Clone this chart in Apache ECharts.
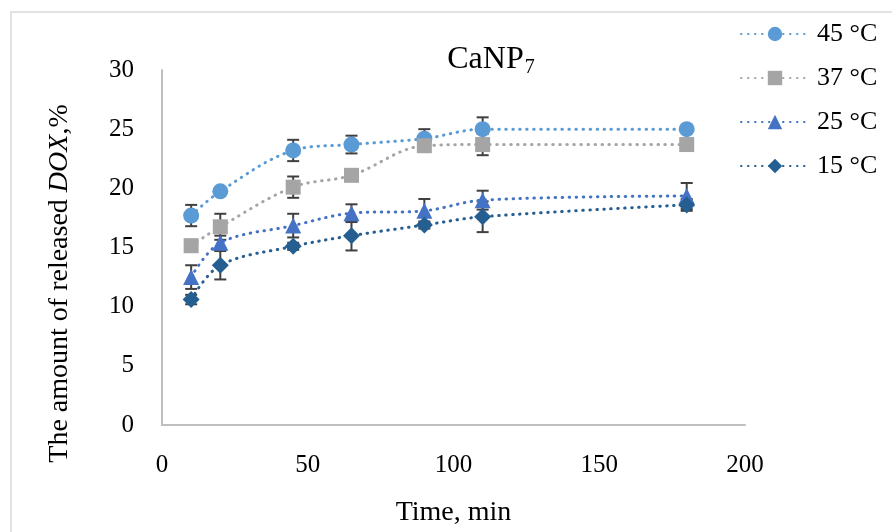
<!DOCTYPE html>
<html><head><meta charset="utf-8">
<script src="https://cdn.jsdelivr.net/npm/echarts@6/dist/echarts.min.js"></script>
<style>html,body{margin:0;padding:0;background:#fff}#c{width:892px;height:532px}</style>
</head><body><div id="c"></div>
<script>
const times = [10, 20, 45, 65, 90, 110, 180];
const seriesNames = ['45 °C', '37 °C', '25 °C', '15 °C'];
const v45 = [17.7, 19.75, 23.2, 23.7, 24.2, 25.0, 25.0];
const v37 = [15.15, 16.75, 20.1, 21.1, 23.6, 23.7, 23.7];
const v25 = [12.5, 15.4, 16.85, 17.9, 18.1, 19.0, 19.35];
const v15 = [10.6, 13.5, 15.1, 16.0, 16.9, 17.6, 18.6];
const e45 = [0.9, 0.3, 0.9, 0.75, 0.8, 1.0, 0.2];
const e37 = [0.5, 1.1, 0.9, 0.3, 0.5, 0.9, 0.2];
const e25 = [1.0, 0.6, 1.0, 0.75, 1.0, 0.8, 1.1];
const e15 = [0.4, 1.2, 0.3, 1.25, 0.3, 1.3, 0.5];
const xTicks = [0, 50, 100, 150, 200];
const yTicks = [0, 5, 10, 15, 20, 25, 30];

const colors = ['#5B9BD5', '#A5A5A5', '#4472C4', '#255E91'];
const symbols = ['circle', 'rect', 'triangle', 'diamond'];
const symSizes = [16, 15, 16, 17];
const vals = [v45, v37, v25, v15];
const errs = [e45, e37, e25, e15];
const serif = '"Liberation Serif", "DejaVu Serif", serif';

const series = [];
vals.forEach((v, si) => {
  series.push({
    type: 'line',
    name: seriesNames[si],
    data: times.map((t, i) => [t, v[i]]),
    smooth: 0.35,
    symbol: symbols[si],
    symbolSize: symSizes[si],
    z: 5,
    lineStyle: { color: colors[si], width: 3, type: [0.5, 6.5], cap: 'round' },
    itemStyle: { color: colors[si] }
  });
});
vals.forEach((v, si) => {
  series.push({
    type: 'custom',
    name: 'err' + si,
    data: times.map((t, i) => [t, v[i] - errs[si][i], v[i] + errs[si][i]]),
    z: 3,
    renderItem: function (params, api) {
      const lo = api.coord([api.value(0), api.value(1)]);
      const hi = api.coord([api.value(0), api.value(2)]);
      const w = 6;
      const st = { stroke: '#404040', lineWidth: 2 };
      return {
        type: 'group',
        children: [
          { type: 'line', shape: { x1: lo[0], y1: lo[1], x2: hi[0], y2: hi[1] }, style: st },
          { type: 'line', shape: { x1: lo[0] - w, y1: lo[1], x2: lo[0] + w, y2: lo[1] }, style: st },
          { type: 'line', shape: { x1: hi[0] - w, y1: hi[1], x2: hi[0] + w, y2: hi[1] }, style: st }
        ]
      };
    }
  });
});

const chart = echarts.init(document.getElementById('c'));
chart.setOption({
  animation: false,
  backgroundColor: '#fff',
  textStyle: { fontFamily: serif },
  title: {
    text: '{m|CaNP}{s|7}',
    left: 486, top: 37, textAlign: 'center',
    textStyle: {
      fontWeight: 'normal',
      rich: {
        m: { fontFamily: serif, fontSize: 32, color: '#000', fontWeight: 'normal' },
        s: { fontFamily: serif, fontSize: 20, color: '#000', fontWeight: 'normal', padding: [16, 0, 0, 1] }
      }
    }
  },
  legend: {
    data: seriesNames,
    orient: 'vertical',
    left: 735, top: 16,
    itemWidth: 68, itemHeight: 18,
    itemGap: 18,
    textStyle: { fontFamily: serif, fontSize: 26, color: '#000', padding: [0, 0, 0, 3] }
  },
  grid: { left: 162, top: 70, right: 147, bottom: 102 },
  xAxis: {
    type: 'value', min: 0, max: 200, interval: 50,
    name: 'Time, min', nameLocation: 'middle', nameGap: 74,
    nameTextStyle: { fontFamily: serif, fontSize: 28, color: '#000' },
    axisLine: { lineStyle: { color: '#BFBFBF', width: 2 } },
    axisTick: { show: false }, splitLine: { show: false },
    axisLabel: { fontFamily: serif, fontSize: 25, color: '#000', margin: 28 }
  },
  yAxis: {
    type: 'value', min: 0, max: 30, interval: 5,
    name: '{a|The amount of released }{b|DOX}{a|,%}', nameLocation: 'middle', nameGap: 88,
    nameTextStyle: { padding: [0, 72, 0, 0], rich: {
      a: { fontFamily: serif, fontSize: 28, color: '#000' },
      b: { fontFamily: serif, fontSize: 28, color: '#000', fontStyle: 'italic' }
    } },
    axisLine: { show: true, lineStyle: { color: '#BFBFBF', width: 2 } },
    axisTick: { show: false }, splitLine: { show: false },
    axisLabel: { fontFamily: serif, fontSize: 25, color: '#000', margin: 28 }
  },
  graphic: [{
    type: 'rect', shape: { x: 11, y: 12, width: 900, height: 540 },
    style: { fill: 'none', stroke: '#D9D9D9', lineWidth: 1.5 }, silent: true, z: -10
  }],
  series: series
});
</script></body></html>
